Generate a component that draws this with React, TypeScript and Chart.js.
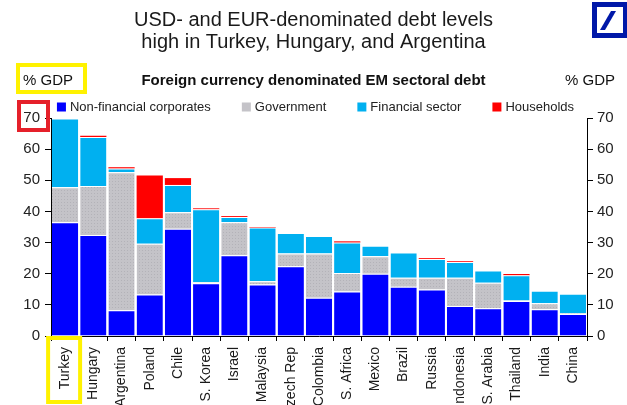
import React, { useEffect, useRef } from "react";
import { Chart, registerables } from "chart.js";

Chart.register(...registerables);

const countries = [
  "Turkey", "Hungary", "Argentina", "Poland", "Chile", "S. Korea", "Israel",
  "Malaysia", "Czech Rep", "Colombia", "S. Africa", "Mexico", "Brazil",
  "Russia", "Indonesia", "S. Arabia", "Thailand", "India", "China",
];
const nonFinancialCorporates = [36.5, 32.4, 8.3, 13.3, 34.4, 16.9, 25.9, 16.5, 22.4, 12.3, 14.3, 20.0, 15.8, 14.9, 9.6, 8.9, 11.2, 8.6, 7.1];
const government = [11.3, 15.8, 44.3, 16.3, 5.3, 0.4, 10.6, 1.1, 4.1, 14.2, 5.9, 5.6, 2.9, 3.8, 9.1, 8.2, 0.2, 1.9, 0.2];
const financialSector = [22.0, 15.7, 1.2, 8.2, 8.8, 23.4, 1.7, 17.2, 6.6, 5.6, 9.8, 3.4, 8.1, 6.0, 5.1, 3.9, 8.1, 4.0, 6.3];
const households = [0, 0.4, 0.4, 13.7, 2.2, 0.3, 0.3, 0.2, 0, 0, 0.4, 0, 0, 0.3, 0.25, 0, 0.4, 0, 0];
const seriesNames = ["Non-financial corporates", "Government", "Financial sector", "Households"];
const seriesColors = ["#0000FF", "#C4C3C8", "#00B0F0", "#FF0000"];
const yMin = 0;
const yMax = 70;
const yStep = 10;
const titleLines = ["USD- and EUR-denominated debt levels", "high in Turkey, Hungary, and Argentina"];
const subtitleText = "Foreign currency denominated EM sectoral debt";
const unitText = "% GDP";

const FONT = '"Liberation Sans", Arial, Helvetica, sans-serif';

const overlayPlugin = {
  id: "overlay",
  afterDraw(chart: any) {
    const ctx: CanvasRenderingContext2D = chart.ctx;
    const area = chart.chartArea;
    ctx.save();
    // unit labels
    ctx.font = `15px ${FONT}`;
    ctx.fillStyle = "#111";
    ctx.textBaseline = "middle";
    ctx.textAlign = "left";
    ctx.fillText(unitText, 23, 81);
    ctx.textAlign = "right";
    ctx.fillText(unitText, 615, 81);

    // legend
    ctx.font = `13px ${FONT}`;
    const box = 9;
    const gapText = 4;
    const gapItem = 31;
    const items = chart.data.datasets.map((ds: any, i: number) => ({
      label: ds.label as string,
      color: seriesColors[i],
      w: box + gapText + ctx.measureText(ds.label).width,
    }));
    const total = items.reduce((s: number, it: any) => s + it.w, 0) + gapItem * (items.length - 1);
    let x = chart.width / 2 + 2 - total / 2;
    const ly = 107;
    ctx.textAlign = "left";
    for (const it of items) {
      ctx.fillStyle = it.color;
      ctx.fillRect(x, ly - box / 2, box, box);
      ctx.fillStyle = "#222";
      ctx.fillText(it.label, x + box + gapText, ly);
      x += it.w + gapItem;
    }

    // highlight boxes
    const y70 = chart.scales.y.getPixelForValue(yMax);
    const x0 = chart.scales.x.getPixelForValue(0);
    ctx.lineWidth = 4;
    ctx.strokeStyle = "#FFF200";
    ctx.strokeRect(18, 65, 67, 27);
    ctx.strokeRect(x0 - 17, area.bottom + 2, 32, 64);
    ctx.strokeStyle = "#E5202A";
    ctx.strokeRect(19, y70 - 16, 29, 28);

    // logo
    ctx.fillStyle = "#0018A8";
    ctx.fillRect(592, 2, 36, 36);
    ctx.fillStyle = "#ffffff";
    ctx.fillRect(597, 7, 26, 26);
    ctx.fillStyle = "#0018A8";
    ctx.beginPath();
    ctx.moveTo(600, 30);
    ctx.lineTo(605, 30);
    ctx.lineTo(616, 11);
    ctx.lineTo(611, 11);
    ctx.closePath();
    ctx.fill();
    ctx.restore();
  },
};

export default function App() {
  const ref = useRef<HTMLCanvasElement | null>(null);

  useEffect(() => {
    const canvas = ref.current;
    if (!canvas) return;
    Chart.defaults.font.family = FONT;

    const pc = document.createElement("canvas");
    pc.width = 3;
    pc.height = 3;
    const pctx = pc.getContext("2d")!;
    pctx.fillStyle = seriesColors[1];
    pctx.fillRect(0, 0, 3, 3);
    pctx.fillStyle = "#b3b2b8";
    pctx.fillRect(1, 1, 1, 1);
    const ctx = canvas.getContext("2d")!;
    const grayPattern = ctx.createPattern(pc, "repeat") || seriesColors[1];

    const seriesData = [nonFinancialCorporates, government, financialSector, households];
    const datasets = seriesData.map((data, i) => ({
      label: seriesNames[i],
      data,
      backgroundColor: i === 1 ? grayPattern : seriesColors[i],
      borderColor: "rgba(255,255,255,0.85)",
      borderWidth: i === 3 ? 0 : { top: 1, left: 0, right: 0, bottom: 0 },
      borderSkipped: false,
      stack: "debt",
      barPercentage: 0.93,
      categoryPercentage: 1.0,
      yAxisID: "y",
    }));

    const axisCommon = {
      min: yMin,
      max: yMax,
      grid: { drawOnChartArea: false, tickLength: 6, color: "#000" },
      border: { color: "#000", width: 1 },
    };

    const chart = new Chart(canvas, {
      type: "bar",
      data: { labels: countries, datasets: datasets as any },
      plugins: [overlayPlugin],
      options: {
        responsive: false,
        animation: false,
        devicePixelRatio: 1,
        layout: { padding: 0 },
        plugins: {
          legend: { display: false },
          tooltip: { enabled: false },
          title: {
            display: true,
            text: titleLines,
            color: "#1a1a1a",
            font: { size: 20, weight: "normal", family: FONT, lineHeight: 1.1 },
            padding: { top: 9, bottom: 0 },
          },
          subtitle: {
            display: true,
            text: subtitleText,
            color: "#111",
            font: { size: 15, weight: "bold", family: FONT, lineHeight: 1.2 },
            padding: { top: 19, bottom: 28 },
          },
        },
        scales: {
          x: {
            stacked: true,
            grid: { offset: true, drawOnChartArea: false, tickLength: 5, color: "#000" },
            border: { color: "#000", width: 1 },
            ticks: {
              autoSkip: false,
              minRotation: 90,
              maxRotation: 90,
              padding: 6,
              color: "#1a1a1a",
              font: { size: 14, family: FONT },
            },
            afterFit: (s: any) => { s.height = 69; },
          },
          y: {
            ...axisCommon,
            position: "left",
            stacked: true,
            ticks: { stepSize: yStep, padding: 5, color: "#222", font: { size: 15, family: FONT } },
            afterFit: (s: any) => { s.width = 51; },
          },
          y2: {
            ...axisCommon,
            position: "right",
            ticks: { stepSize: yStep, padding: 4, color: "#222", font: { size: 15, family: FONT } },
            afterFit: (s: any) => { s.width = 40; },
          },
        },
      } as any,
    });
    return () => chart.destroy();
  }, []);

  return (
    <div style={{ position: "fixed", left: 0, top: 0, width: 627, height: 405, overflow: "hidden", background: "#fff" }}>
      <canvas ref={ref} width={627} height={405} style={{ width: 627, height: 405, display: "block" }} />
    </div>
  );
}
